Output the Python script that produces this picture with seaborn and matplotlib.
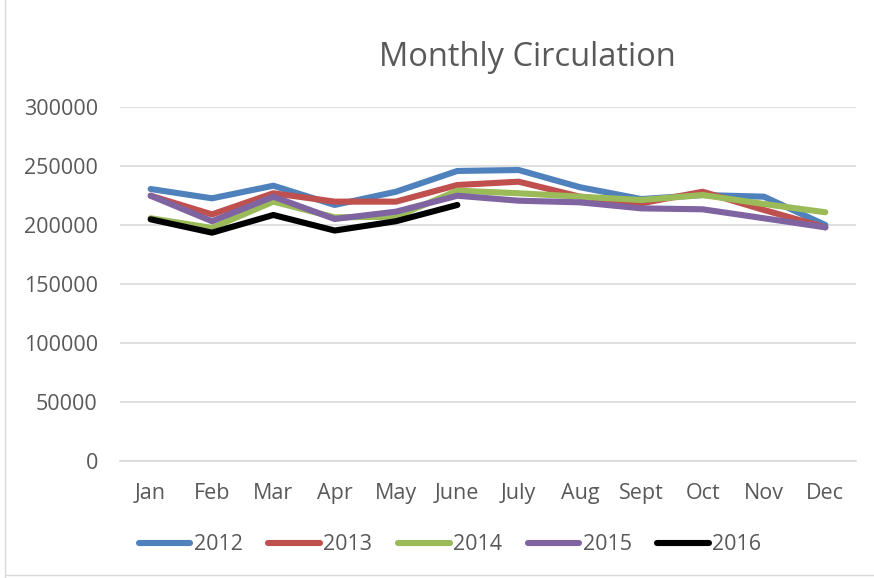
import numpy as np
import pandas as pd
import matplotlib
matplotlib.use("Agg")
import matplotlib.pyplot as plt
import seaborn as sns

# ---------------- data ----------------
months = ["Jan", "Feb", "Mar", "Apr", "May", "June", "July", "Aug", "Sept", "Oct", "Nov", "Dec"]
c2012 = [230500, 222600, 233300, 217000, 228200, 245800, 246600, 232000, 222000, 225400, 224000, 200000]
c2013 = [224800, 209000, 226900, 219800, 219800, 233900, 236700, 224000, 218400, 228200, 212700, 198000]
c2014 = [205700, 197500, 219800, 206500, 207000, 229100, 226900, 224000, 221200, 225400, 217800, 210800]
c2015 = [224800, 203200, 224000, 205100, 211300, 224800, 220600, 219200, 214100, 213300, 205700, 198000]
c2016 = [204800, 193500, 208500, 195300, 203200, 217000]
years = ["2012", "2013", "2014", "2015", "2016"]
palette = ["#4f81bd", "#c0504d", "#9bbb59", "#8064a2", "#000000"]

rows = []
for yr, vals in zip(years, [c2012, c2013, c2014, c2015, c2016]):
    for m, v in zip(months, vals):
        rows.append({"month": m, "year": yr, "circulation": v})
df = pd.DataFrame(rows)

# ---------------- plot ----------------
sns.set_theme(style="white")
plt.rcParams["font.family"] = ["Open Sans", "DejaVu Sans"]
txt = "#595959"

fig = plt.figure(figsize=(8.74, 5.78), dpi=100)
ax = fig.add_axes([120 / 874, 1 - 461 / 578, (856 - 120) / 874, (461 - 107) / 578])

sns.lineplot(data=df, x="month", y="circulation", hue="year", palette=palette,
             linewidth=4.4, sort=False, ax=ax, legend=False)

ax.set_xlim(-0.5, 11.5)
ax.set_ylim(0, 300000)
ax.set_yticks(np.arange(0, 300001, 50000))
ax.set_yticklabels([str(v) for v in range(0, 300001, 50000)])
ax.set_xticks(range(len(months)))
ax.set_xticklabels(months)
ax.yaxis.grid(True, color="#d9d9d9", linewidth=1.2)
ax.set_axisbelow(True)
for s in ["top", "right", "left"]:
    ax.spines[s].set_visible(False)
ax.spines["bottom"].set_color("#d9d9d9")
ax.spines["bottom"].set_linewidth(1.2)
ax.tick_params(axis="both", length=0, labelsize=15.5, colors=txt)
ax.tick_params(axis="x", pad=16)
ax.tick_params(axis="y", pad=16)
ax.set_xlabel("")
ax.set_ylabel("")

fig.text(527 / 874, 1 - 57 / 578, "Monthly Circulation", ha="center", va="center",
         fontsize=23.5, color=txt)

handles = [plt.Line2D([0], [0], color=c, linewidth=4.4, solid_capstyle="round") for c in palette]
fig.legend(handles, years, loc="center", bbox_to_anchor=(450 / 874, 1 - 545 / 578),
           ncol=5, frameon=False, fontsize=15.5, labelcolor=txt, handlelength=2.4,
           handletextpad=0.15, columnspacing=1.2)

# chart border
fig.add_artist(plt.Line2D([5 / 874, 5 / 874], [0, 1], color="#d9d9d9", linewidth=1))
fig.add_artist(plt.Line2D([5 / 874, 1], [3 / 578, 3 / 578], color="#d9d9d9", linewidth=1))

fig.savefig("out.png", dpi=100)
